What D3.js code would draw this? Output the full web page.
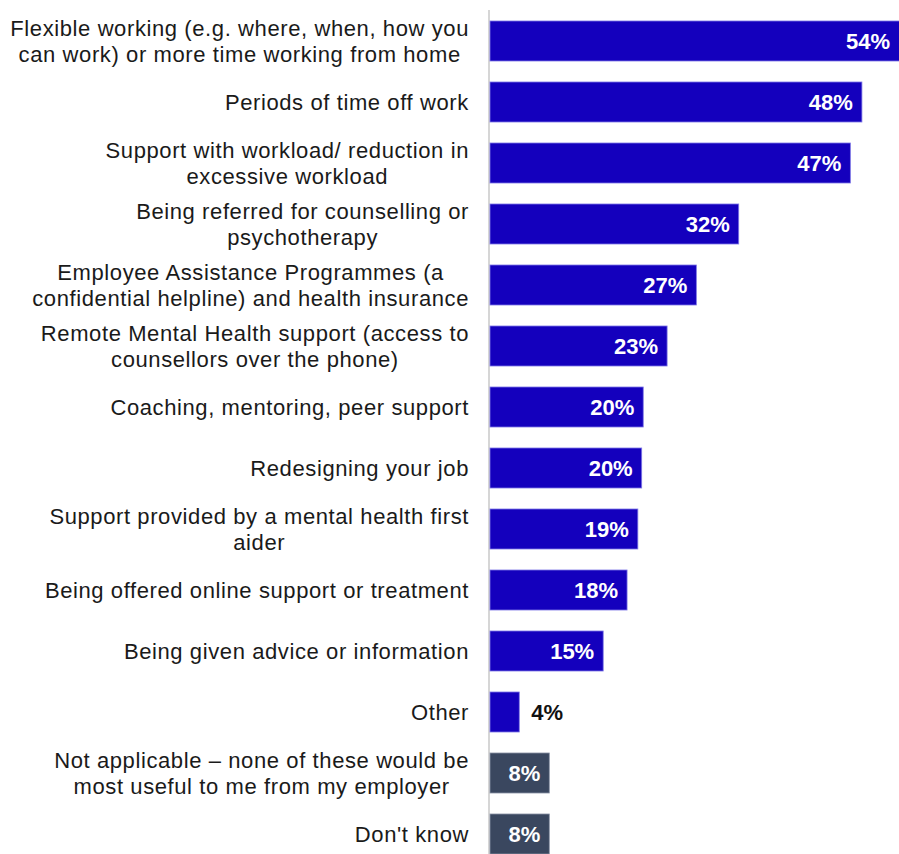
<!DOCTYPE html>
<html><head><meta charset="utf-8">
<script src="https://cdn.jsdelivr.net/npm/d3@7"></script>
<style>html,body{margin:0;padding:0;background:#fff;}svg{display:block;}</style>
</head><body>
<script>
const categories = [
  ["Flexible working (e.g. where, when, how you", "can work) or more time working from home"],
  ["Periods of time off work"],
  ["Support with workload/ reduction in", "excessive workload"],
  ["Being referred for counselling or", "psychotherapy"],
  ["Employee Assistance Programmes (a", "confidential helpline) and health insurance"],
  ["Remote Mental Health support (access to", "counsellors over the phone)"],
  ["Coaching, mentoring, peer support"],
  ["Redesigning your job"],
  ["Support provided by a mental health first", "aider"],
  ["Being offered online support or treatment"],
  ["Being given advice or information"],
  ["Other"],
  ["Not applicable \u2013 none of these would be", "most useful to me from my employer"],
  ["Don't know"]
];
const values = [54.2, 48.3, 46.8, 32.3, 26.8, 23.0, 19.9, 19.7, 19.2, 17.8, 14.7, 3.8, 7.7, 7.7];
const groups = ["main","main","main","main","main","main","main","main","main","main","main","main","none","none"];

const W = 899, H = 854;
const svg = d3.select("body").append("svg").attr("width", W).attr("height", H);
const x0 = 490;
const x = d3.scaleLinear().domain([0, 1]).range([x0, x0 + 7.7]);
const idx = d3.range(categories.length);
const y = d3.scaleBand().domain(idx).range([10.5, 864.5]).paddingInner(0.344).paddingOuter(0.172);
const color = d3.scaleOrdinal().domain(["main","none"]).range(["#1400bd", "#3a475f"]);
const stroke = d3.scaleOrdinal().domain(["main","none"]).range(["#7f78e6", "#8a93a6"]);

// axis line
svg.append("line").attr("x1", x0 - 1).attr("x2", x0 - 1).attr("y1", 10).attr("y2", H)
  .attr("stroke", "#d6d6d6").attr("stroke-width", 2);

svg.selectAll("rect.bar").data(idx).enter().append("rect")
  .attr("x", x(0)).attr("y", i => y(i))
  .attr("width", i => x(values[i]) - x(0)).attr("height", y.bandwidth())
  .attr("fill", i => color(groups[i]))
  .attr("stroke", i => stroke(groups[i])).attr("stroke-width", 0.8);

const fmt = v => d3.format(".0f")(v) + "%";
svg.selectAll("text.val").data(idx).enter().append("text")
  .attr("font-family", "Liberation Sans, Arial, sans-serif")
  .attr("font-weight", "bold").attr("font-size", 22)
  .attr("dy", "0.36em")
  .attr("y", i => y(i) + y.bandwidth() / 2)
  .each(function(i) {
    const inside = values[i] > 6;
    d3.select(this)
      .attr("x", inside ? Math.min(x(values[i]), W) - 9 : x(values[i]) + 12)
      .attr("text-anchor", inside ? "end" : "start")
      .attr("fill", inside ? "#ffffff" : "#111111")
      .text(fmt(values[i]));
  });

// category labels: block right-aligned at 470, lines centered within block
const labelRight = 469, lineH = 26;
idx.forEach(i => {
  const lines = categories[i];
  const g = svg.append("g");
  const cy = y(i) + y.bandwidth() / 2;
  const texts = lines.map((ln, k) => g.append("text")
    .attr("font-family", "Liberation Sans, Arial, sans-serif")
    .attr("font-size", 22).attr("fill", "#1a1a1a")
    .attr("letter-spacing", 0.6)
    .attr("text-anchor", "middle")
    .attr("y", cy + (k - (lines.length - 1) / 2) * lineH)
    .attr("dy", "0.35em")
    .text(ln));
  const maxw = d3.max(texts, t => t.node().getBBox().width);
  texts.forEach(t => t.attr("x", labelRight - maxw / 2));
});
</script>
</body></html>
